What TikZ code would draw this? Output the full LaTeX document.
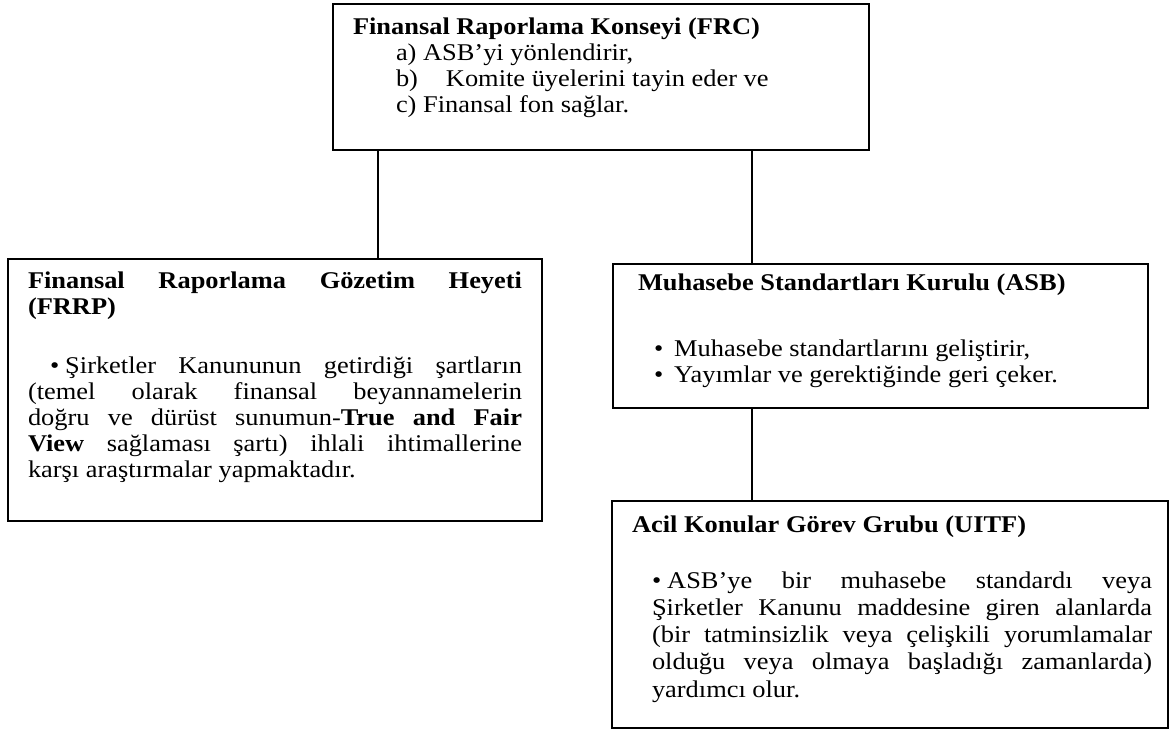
\documentclass[tikz,border=0pt]{standalone}
\usepackage{fontspec}
\setmainfont{Liberation Serif}[FakeStretch=1.1]
\usepackage{tikz}
\usetikzlibrary{shapes,arrows}
\hyphenpenalty=10000
\exhyphenpenalty=10000
\tikzstyle{block} = [rectangle, draw, line width=1pt, inner ysep=0pt,
    anchor=north west, font=\fontsize{12}{13}\selectfont]
\tikzstyle{line} = [draw, line width=1pt]
\newcommand{\boxtext}[3]{\begin{minipage}[t][#2][t]{#1}#3\end{minipage}}
\newcommand{\firstline}[1]{\rule{0pt}{#1}}

\begin{document}
\begin{tikzpicture}[x=0.5pt, y=-0.5pt]
    \useasboundingbox (0,0) rectangle (1170,733);
    % Place nodes
    \node [block, inner xsep=10pt] (frc) at (332,3) {\boxtext{248pt}{73pt}{%
        \firstline{15.5pt}\textbf{Finansal Raporlama Konseyi (FRC)}\par
        \hspace*{21.5pt}a) ASB’yi yönlendirir,\par
        \hspace*{21.5pt}b)\hspace{14pt}Komite üyelerini tayin eder ve\par
        \hspace*{21.5pt}c) Finansal fon sağlar.}};
    \node [block, inner xsep=10pt] (frrp) at (7,258) {\boxtext{247pt}{131pt}{%
        \firstline{14.5pt}\textbf{Finansal Raporlama Gözetim Heyeti\linebreak (FRRP)}\par
        \vspace{16.5pt}
        \hspace*{11pt}\textbullet\hspace{3pt}Şirketler Kanununun getirdiği şartların\linebreak
        (temel olarak finansal beyannamelerin\linebreak
        doğru ve dürüst sunumun-\textbf{True and Fair}\linebreak
        \textbf{View} sağlaması şartı) ihlali ihtimallerine\linebreak
        karşı araştırmalar yapmaktadır.}};
    \node [block, inner xsep=12.5pt] (asb) at (612,263) {\boxtext{242.5pt}{72pt}{%
        \firstline{13pt}\textbf{Muhasebe Standartları Kurulu (ASB)}\par
        \vspace{20pt}
        \hspace*{8pt}\textbullet\hspace{5.5pt}Muhasebe standartlarını geliştirir,\par
        \hspace*{8pt}\textbullet\hspace{5.5pt}Yayımlar ve gerektiğinde geri çeker.}};
    \node [block, inner xsep=8pt] (uitf) at (611,500) {\boxtext{262pt}{113.5pt}{%
        \firstline{15.5pt}\hspace*{2pt}\textbf{Acil Konular Görev Grubu (UITF)}\par
        \vspace{14.5pt}
        {\leftskip=12pt \baselineskip=13.6pt
        \textbullet\hspace{3pt}ASB’ye bir muhasebe standardı veya\linebreak
        Şirketler Kanunu maddesine giren alanlarda\linebreak
        (bir tatminsizlik veya çelişkili yorumlamalar\linebreak
        olduğu veya olmaya başladığı zamanlarda)\linebreak
        yardımcı olur.\par}}};

    % Draw edges
    \coordinate (kleft) at (378,0);
    \coordinate (kright) at (752,0);
    \path [line] (frc.south -| kleft) -- (frrp.north -| kleft);
    \path [line] (frc.south -| kright) -- (asb.north -| kright);
    \path [line] (asb.south -| kright) -- (uitf.north -| kright);
\end{tikzpicture}
\end{document}
